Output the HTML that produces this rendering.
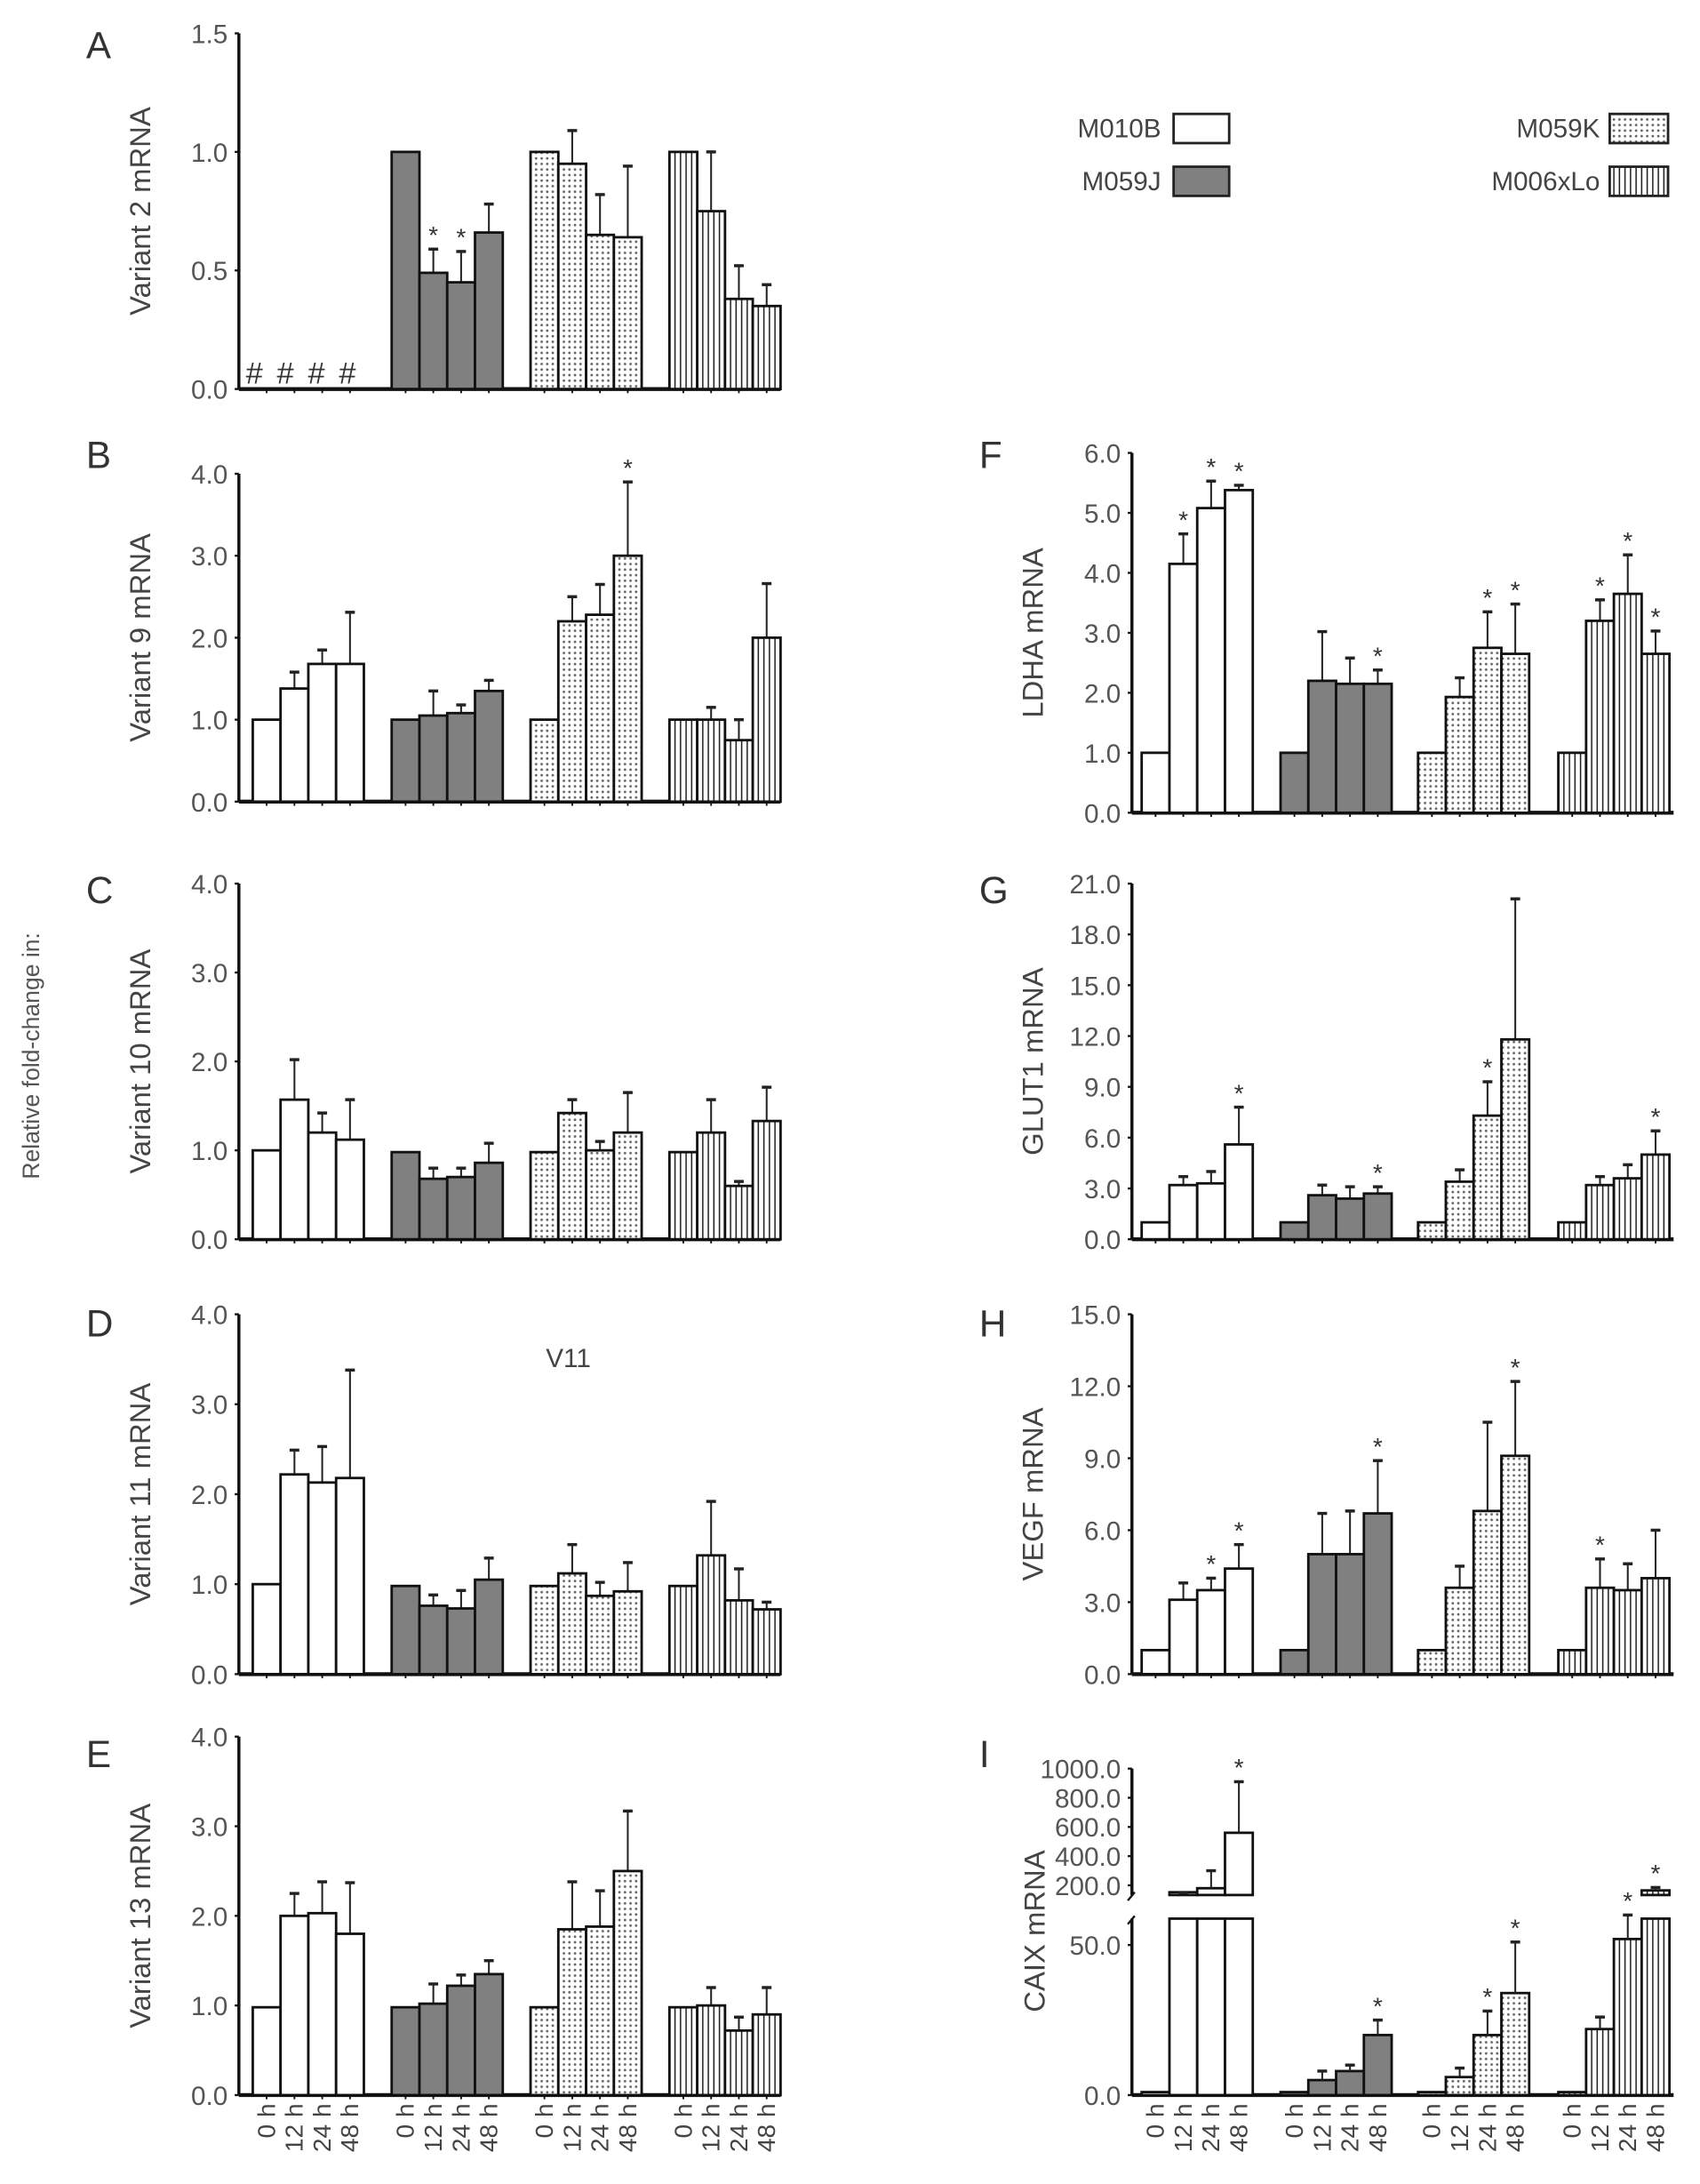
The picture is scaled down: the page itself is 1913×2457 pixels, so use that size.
<!DOCTYPE html>
<html><head><meta charset="utf-8"><style>
html,body{margin:0;padding:0;background:#fff;}
svg{display:block;font-family:"Liberation Sans",sans-serif;}
</style></head><body>
<svg id="fig" width="1913" height="2457" viewBox="0 0 1224 1572" preserveAspectRatio="none" xmlns="http://www.w3.org/2000/svg">
<defs>
<pattern id="dots" width="4" height="4" patternUnits="userSpaceOnUse"><rect width="4" height="4" fill="#fff"/><circle cx="2" cy="2" r="0.9" fill="#666"/></pattern>
<pattern id="vlines" width="4" height="4" patternUnits="userSpaceOnUse"><rect width="4" height="4" fill="#fff"/><rect x="1.5" width="1" height="4" fill="#222"/></pattern>
</defs>
<text x="0" y="0" transform="translate(28,760) rotate(-90)" text-anchor="middle" font-size="17" fill="#555">Relative fold-change in:</text>
<g>
<text x="836" y="99" text-anchor="end" font-size="19" fill="#444">M010B</text>
<rect x="845" y="82" width="40" height="21" fill="#fff" stroke="#222" stroke-width="1.8"/>
<text x="836" y="137" text-anchor="end" font-size="19" fill="#444">M059J</text>
<rect x="845" y="120" width="40" height="21" fill="#808080" stroke="#222" stroke-width="1.8"/>
<text x="1152" y="99" text-anchor="end" font-size="19" fill="#444">M059K</text>
<rect x="1159" y="82" width="42" height="21" fill="url(#dots)" stroke="#222" stroke-width="1.8"/>
<text x="1152" y="137" text-anchor="end" font-size="19" fill="#444">M006xLo</text>
<rect x="1159" y="120" width="42" height="21" fill="url(#vlines)" stroke="#222" stroke-width="1.8"/>
</g>
<text x="393" y="984" font-size="19" fill="#444">V11</text>
</svg>
<script>
const timeLabels = ['0 h','12 h','24 h','48 h'];
const cellLines = ['M010B','M059J','M059K','M006xLo'];

const aTicks = ['0.0','0.5','1.0','1.5'];
const aMeans = [null, [1.0,0.49,0.45,0.66], [1.0,0.95,0.65,0.64], [1.0,0.75,0.38,0.35]];
const aErrs  = [null, [0,0.10,0.13,0.12], [0,0.14,0.17,0.30], [0,0.25,0.14,0.09]];
const aStars = [null, [0,1,1,0], [0,0,0,0], [0,0,0,0]];

const bTicks = ['0.0','1.0','2.0','3.0','4.0'];
const bMeans = [[1,1.38,1.68,1.68],[1,1.05,1.08,1.35],[1,2.2,2.28,3.0],[1,1,0.75,2.0]];
const bErrs  = [[0,0.2,0.17,0.63],[0,0.3,0.1,0.13],[0,0.3,0.37,0.9],[0,0.15,0.25,0.66]];
const bStars = [[0,0,0,0],[0,0,0,0],[0,0,0,1],[0,0,0,0]];

const cMeans = [[1,1.57,1.2,1.12],[0.98,0.68,0.7,0.86],[0.98,1.42,1.0,1.2],[0.98,1.2,0.6,1.33]];
const cErrs  = [[0,0.45,0.22,0.45],[0,0.12,0.1,0.22],[0,0.15,0.1,0.45],[0,0.37,0.05,0.38]];

const dMeans = [[1,2.22,2.13,2.18],[0.98,0.76,0.73,1.05],[0.98,1.12,0.87,0.92],[0.98,1.32,0.82,0.72]];
const dErrs  = [[0,0.27,0.4,1.2],[0,0.12,0.2,0.24],[0,0.32,0.15,0.32],[0,0.6,0.35,0.08]];

const eMeans = [[0.98,2.0,2.03,1.8],[0.98,1.02,1.22,1.35],[0.98,1.85,1.88,2.5],[0.98,1.0,0.72,0.9]];
const eErrs  = [[0,0.25,0.35,0.57],[0,0.22,0.12,0.15],[0,0.53,0.4,0.67],[0,0.2,0.15,0.3]];

const fTicks = ['0.0','1.0','2.0','3.0','4.0','5.0','6.0'];
const fMeans = [[1,4.15,5.08,5.38],[1,2.2,2.15,2.15],[1,1.93,2.75,2.65],[1,3.2,3.65,2.65]];
const fErrs  = [[0,0.5,0.45,0.08],[0,0.82,0.43,0.23],[0,0.32,0.6,0.83],[0,0.35,0.65,0.38]];
const fStars = [[0,1,1,1],[0,0,0,1],[0,0,1,1],[0,1,1,1]];

const gTicks = ['0.0','3.0','6.0','9.0','12.0','15.0','18.0','21.0'];
const gMeans = [[1,3.2,3.3,5.6],[1,2.6,2.4,2.7],[1,3.4,7.3,11.8],[1,3.2,3.6,5.0]];
const gErrs  = [[0,0.5,0.7,2.2],[0,0.6,0.7,0.4],[0,0.7,2.0,8.3],[0,0.5,0.8,1.4]];
const gStars = [[0,0,0,1],[0,0,0,1],[0,0,1,0],[0,0,0,1]];

const hTicks = ['0.0','3.0','6.0','9.0','12.0','15.0'];
const hMeans = [[1,3.1,3.5,4.4],[1,5.0,5.0,6.7],[1,3.6,6.8,9.1],[1,3.6,3.5,4.0]];
const hErrs  = [[0,0.7,0.5,1.0],[0,1.7,1.8,2.2],[0,0.9,3.7,3.1],[0,1.2,1.1,2.0]];
const hStars = [[0,0,1,1],[0,0,0,1],[0,0,0,1],[0,1,0,0]];

const iLowTicks = ['0.0','50.0'];
const iHighTicks = ['200.0','400.0','600.0','800.0','1000.0'];
const iMeans = [[1,80,180,560],[1,5,8,20],[1,6,20,34],[1,22,52,165]];
const iErrs  = [[0,70,120,350],[0,3,2,5],[0,3,8,17],[0,4,8,20]];
const iStars = [[0,0,0,1],[0,0,0,1],[0,0,1,1],[0,0,1,1]];

const noStars = [[0,0,0,0],[0,0,0,0],[0,0,0,0],[0,0,0,0]];

const NS='http://www.w3.org/2000/svg';
const svg=document.getElementById('fig');
const fills=['#fff','#808080','url(#dots)','url(#vlines)'];
const leftStarts=[182,282,382,482], rightStarts=[822,922,1021,1122];
const BW=20;
const TICKFS=19, TITLEFS=21, XFS=18;
function mk(tag,attrs,parent){const e=document.createElementNS(NS,tag);for(const k in attrs)e.setAttribute(k,attrs[k]);(parent||svg).appendChild(e);return e;}

function drawPanel(p){
  const g=mk('g',{});
  
  
  const yS=v=>p.y0-(v/p.max)*(p.y0-p.yTop);
  const lt=mk('text',{x:p.ax-110,y:p.letterY,'font-size':27,fill:'#333'},g);
  lt.textContent=p.letter;
  
  
  const tt=mk('text',{transform:`translate(${p.ax-64},${(p.y0+p.yTop)/2}) rotate(-90)`,'text-anchor':'middle','font-size':TITLEFS,fill:'#444'},g);
  tt.textContent=p.title;
  
  
  mk('line',{x1:p.ax,y1:p.yTop,x2:p.ax,y2:p.y0,stroke:'#111','stroke-width':2.2},g);
  mk('line',{x1:p.ax,y1:p.y0,x2:p.axEnd,y2:p.y0,stroke:'#111','stroke-width':2.8},g);
  p.ticks.forEach(t=>{
    const y=yS(parseFloat(t));
    mk('line',{x1:p.ax-3,y1:y,x2:p.ax,y2:y,stroke:'#111','stroke-width':1.5},g);
    const tx=mk('text',{x:p.ax-8,y:y+7,'text-anchor':'end','font-size':TICKFS,fill:'#555'},g);
    tx.textContent=t;
    
    
  });
  p.means.forEach((arr,gi)=>{
    for(let i=0;i<4;i++){
      const cx=p.starts[gi]+i*BW+BW/2;
      mk('line',{x1:cx,y1:p.y0,x2:cx,y2:p.y0+3,stroke:'#111','stroke-width':1.2},g);
      if(!arr)continue;
      const v=arr[i], e=p.errs[gi][i];
      const x=p.starts[gi]+i*BW, y=yS(v);
      if(e>0){
        const ye=yS(v+e);
        mk('line',{x1:cx,y1:y,x2:cx,y2:ye,stroke:'#222','stroke-width':1.3},g);
        mk('line',{x1:cx-3.5,y1:ye,x2:cx+3.5,y2:ye,stroke:'#222','stroke-width':2.2},g);
      }
      const r=mk('rect',{x:x,y:y,width:BW,height:p.y0-y,fill:fills[gi],stroke:'#111','stroke-width':1.8},g);
      
      
      if(p.stars[gi][i]){
        const s=mk('text',{x:cx,y:yS(v+e)-4,'text-anchor':'middle','font-size':18,fill:'#333'},g);
        s.textContent='*';
        
        
      }
    }
  });
  if(p.xlabels){
    p.starts.forEach(st=>{for(let i=0;i<4;i++){
      const cx=st+i*BW+BW/2+6;
      const t=mk('text',{transform:`translate(${cx},1514) rotate(-90)`,'text-anchor':'end','font-size':XFS,fill:'#444'},g);
      t.textContent=timeLabels[i];
      
      
    }});
  }
  return g;
}

drawPanel({id:'a',letter:'A',title:'Variant 2 mRNA',ax:172,axEnd:562,yTop:24,y0:280,max:1.5,letterY:42,ticks:aTicks,means:aMeans,errs:aErrs,stars:aStars,starts:leftStarts});
const hash=mk('text',{x:177,y:276,'font-size':22,fill:'#333','letter-spacing':'2'});
hash.textContent='# # # #';


drawPanel({id:'b',letter:'B',title:'Variant 9 mRNA',ax:172,axEnd:562,yTop:341,y0:577,max:4,letterY:337,ticks:bTicks,means:bMeans,errs:bErrs,stars:bStars,starts:leftStarts});
drawPanel({id:'c',letter:'C',title:'Variant 10 mRNA',ax:172,axEnd:562,yTop:636,y0:892,max:4,letterY:650,ticks:bTicks,means:cMeans,errs:cErrs,stars:noStars,starts:leftStarts});
drawPanel({id:'d',letter:'D',title:'Variant 11 mRNA',ax:172,axEnd:562,yTop:946,y0:1205,max:4,letterY:962,ticks:bTicks,means:dMeans,errs:dErrs,stars:noStars,starts:leftStarts});
drawPanel({id:'e',letter:'E',title:'Variant 13 mRNA',ax:172,axEnd:562,yTop:1250,y0:1508,max:4,letterY:1272,ticks:bTicks,means:eMeans,errs:eErrs,stars:noStars,starts:leftStarts,xlabels:true});
drawPanel({id:'f',letter:'F',title:'LDHA mRNA',ax:815,axEnd:1205,yTop:326,y0:585,max:6,letterY:337,ticks:fTicks,means:fMeans,errs:fErrs,stars:fStars,starts:rightStarts});
drawPanel({id:'g',letter:'G',title:'GLUT1 mRNA',ax:815,axEnd:1205,yTop:636,y0:892,max:21,letterY:650,ticks:gTicks,means:gMeans,errs:gErrs,stars:gStars,starts:rightStarts});
drawPanel({id:'h',letter:'H',title:'VEGF mRNA',ax:815,axEnd:1205,yTop:946,y0:1205,max:15,letterY:962,ticks:hTicks,means:hMeans,errs:hErrs,stars:hStars,starts:rightStarts});

(function(){
  const g=mk('g',{});
  
  
  const ax=815, axEnd=1205, y0=1508;
  const lowTop=1381, lowMax=58.8, hiBot=1364, hiMin=133;
  const yLow=v=>y0-v*(108/50);
  const yHi=v=>1357-(v-200)*(84/800);
  const lt=mk('text',{x:705,y:1272,'font-size':27,fill:'#333'},g);
  lt.textContent='I';
  
  
  const tt=mk('text',{transform:`translate(752,1390) rotate(-90)`,'text-anchor':'middle','font-size':TITLEFS,fill:'#444'},g);
  tt.textContent='CAIX mRNA';
  
  
  mk('line',{x1:ax,y1:1273,x2:ax,y2:hiBot,stroke:'#111','stroke-width':2.2},g);
  mk('line',{x1:ax,y1:lowTop,x2:ax,y2:y0,stroke:'#111','stroke-width':2.2},g);
  mk('line',{x1:ax-3,y1:hiBot+4,x2:ax+2,y2:hiBot-2,stroke:'#111','stroke-width':1.5},g);
  mk('line',{x1:ax-3,y1:lowTop+4,x2:ax+2,y2:lowTop-2,stroke:'#111','stroke-width':1.5},g);
  mk('line',{x1:ax,y1:y0,x2:axEnd,y2:y0,stroke:'#111','stroke-width':2.8},g);
  iLowTicks.forEach(t=>{const y=yLow(parseFloat(t));
    mk('line',{x1:ax-3,y1:y,x2:ax,y2:y,stroke:'#111','stroke-width':1.5},g);
    const tx=mk('text',{x:ax-8,y:y+7,'text-anchor':'end','font-size':TICKFS,fill:'#555'},g);tx.textContent=t;
    
    });
  iHighTicks.forEach(t=>{const y=yHi(parseFloat(t));
    mk('line',{x1:ax-3,y1:y,x2:ax,y2:y,stroke:'#111','stroke-width':1.5},g);
    const tx=mk('text',{x:ax-8,y:y+7,'text-anchor':'end','font-size':TICKFS,fill:'#555'},g);tx.textContent=t;
    
    });
  iMeans.forEach((arr,gi)=>{for(let i=0;i<4;i++){
    const v=arr[i],e=iErrs[gi][i];
    const x=rightStarts[gi]+i*BW, cx=x+BW/2;
    const ytopLow=v>lowMax?lowTop:yLow(v);
    const r=mk('rect',{x:x,y:ytopLow,width:BW,height:y0-ytopLow,fill:fills[gi],stroke:'#111','stroke-width':1.8},g);
    
    
    let topY;
    if(v>lowMax){
      const yt=Math.min(yHi(Math.max(v,hiMin)),hiBot-2);
      const r2=mk('rect',{x:x,y:yt,width:BW,height:hiBot-yt,fill:fills[gi],stroke:'#111','stroke-width':1.8},g);
      
      
      topY=yt;
      if(e>0){const ye=yHi(v+e);
        mk('line',{x1:cx,y1:yt,x2:cx,y2:ye,stroke:'#222','stroke-width':1.3},g);
        mk('line',{x1:cx-3.5,y1:ye,x2:cx+3.5,y2:ye,stroke:'#222','stroke-width':2.2},g);topY=ye;}
    } else {
      topY=ytopLow;
      if(e>0){const ye=yLow(Math.min(v+e,lowMax+2));
        mk('line',{x1:cx,y1:ytopLow,x2:cx,y2:ye,stroke:'#222','stroke-width':1.3},g);
        mk('line',{x1:cx-3.5,y1:ye,x2:cx+3.5,y2:ye,stroke:'#222','stroke-width':2.2},g);topY=ye;}
    }
    if(iStars[gi][i]){const s=mk('text',{x:cx,y:topY-4,'text-anchor':'middle','font-size':18,fill:'#333'},g);s.textContent='*';
      
      }
    const t=mk('text',{transform:`translate(${cx+6},1514) rotate(-90)`,'text-anchor':'end','font-size':XFS,fill:'#444'},g);
    t.textContent=timeLabels[i];
    
    
  }});
})();
</script>
</body></html>
